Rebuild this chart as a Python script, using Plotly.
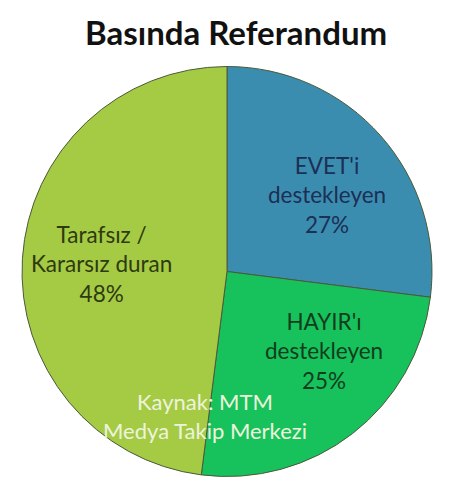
import math
import plotly.graph_objects as go

# slices, clockwise from 12 o'clock
labels = ["EVET'i destekleyen", "HAYIR'ı destekleyen", "Tarafsız / Kararsız duran"]
label_lines = ["EVET'i<br>destekleyen", "HAYIR'ı<br>destekleyen", "Tarafsız /<br>Kararsız duran"]
values = [27, 25, 48]

colors = ["#3b8db0", "#17c25c", "#a5cb45"]
text_colors = ["#1c2f55", "#123d1c", "#2e3a10"]
label_nudge_deg = [4, -13, 0]   # small turn of each label off the slice bisector

title_text = "Basında Referandum"
source_text = "Kaynak: MTM<br>Medya Takip Merkezi"

# page has an 8px body margin, so the figure is drawn 8px smaller
W, H = 442, 480
dom_x = [14 / W, 424 / W]
dom_y = [1 - 470 / H, 1 - 57 / H]
cx, cy, R = 219, 263.5, 206

fig = go.Figure()
fig.add_trace(go.Pie(
    labels=labels,
    values=values,
    textinfo="none",
    sort=False,
    direction="clockwise",
    rotation=0,
    marker=dict(colors=colors, line=dict(color="#4a5a3a", width=1)),
    hoverinfo="label+percent",
    showlegend=False,
    domain=dict(x=dom_x, y=dom_y),
))

# slice labels placed along each slice bisector
total = sum(values)
start = 0.0
for lab, v, tc, nudge in zip(label_lines, values, text_colors, label_nudge_deg):
    sweep = 360.0 * v / total
    theta = math.radians(start + sweep / 2 + nudge)
    start += sweep
    r = 0.61 * R
    px = cx + r * math.sin(theta)
    py = cy - r * math.cos(theta)
    fig.add_annotation(
        text=lab + "<br>" + f"{100 * v / total:.0f}%",
        x=px / W, y=1 - py / H, xref="paper", yref="paper",
        xanchor="center", yanchor="middle",
        showarrow=False, align="center",
        font=dict(family="Lato", size=22.5, color=tc),
    )

fig.add_annotation(
    text="<b>" + title_text + "</b>",
    x=228 / W, y=1 - 24 / H, xref="paper", yref="paper",
    xanchor="center", yanchor="middle", showarrow=False,
    font=dict(family="Lato", size=33, color="#111111"),
)
fig.add_annotation(
    text=source_text,
    x=197 / W, y=1 - 408 / H, xref="paper", yref="paper",
    xanchor="center", yanchor="middle", showarrow=False,
    font=dict(family="Lato", size=22, color="#eef3dd"),
)

fig.update_layout(
    width=W, height=H,
    margin=dict(l=0, r=0, t=0, b=0),
    paper_bgcolor="white",
    plot_bgcolor="white",
)

fig.write_html("out.html")
